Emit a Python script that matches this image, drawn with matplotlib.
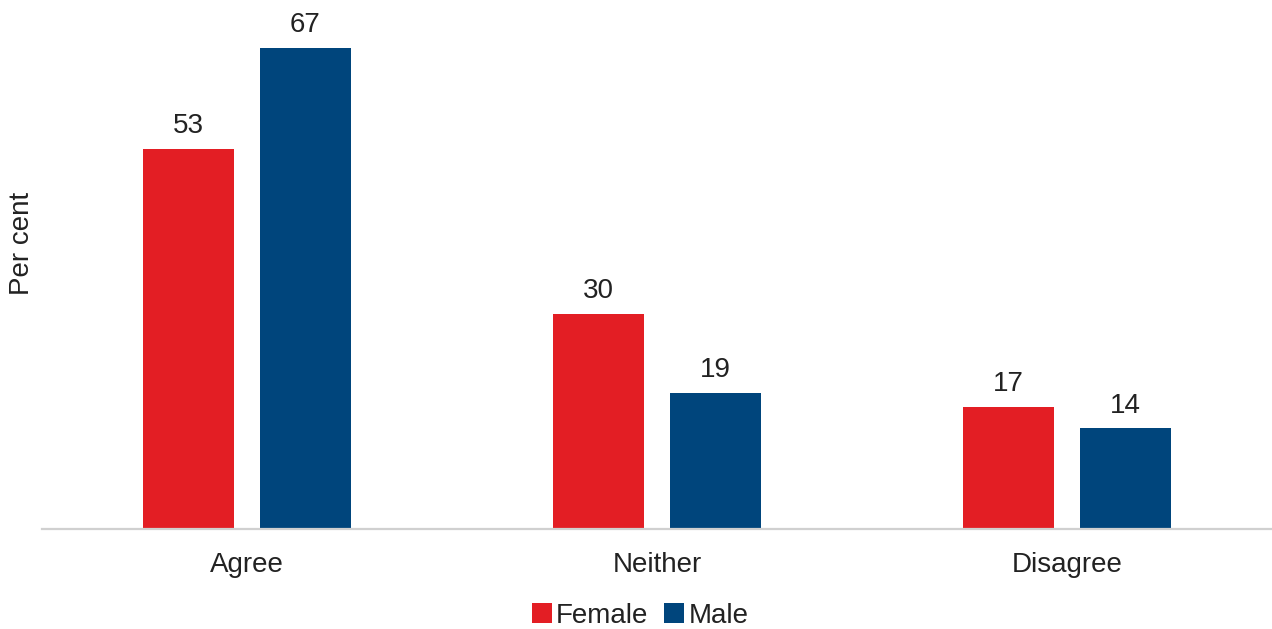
import matplotlib
matplotlib.use("Agg")
import matplotlib.pyplot as plt
import numpy as np

categories = ["Agree", "Neither", "Disagree"]
series_names = ["Female", "Male"]
female = [53, 30, 17]
male = [67, 19, 14]

colors = ["#E31E24", "#00457C"]
text_color = "#222222"
fs = 20

plt.rcParams["font.family"] = ["Liberation Sans", "DejaVu Sans"]

fig = plt.figure(figsize=(12.72, 6.29), dpi=100)
W, H = 1272, 629
left, right = 42, 1272
bottom_px = 529
top_px = 10
ax = fig.add_axes([left / W, 1 - bottom_px / H, (right - left) / W, (bottom_px - top_px) / H])

x = np.arange(len(categories))
bw = 0.224
off = 0.1425
data = [female, male]
for i, (name, vals) in enumerate(zip(series_names, data)):
    pos = x + (-off if i == 0 else off)
    bars = ax.bar(pos, vals, width=bw, color=colors[i], label=name, zorder=2)
    for b, v in zip(bars, vals):
        ax.annotate(f"{v}", (b.get_x() + b.get_width() / 2, v), xytext=(0, 7),
                    textcoords="offset points", ha="center", va="bottom",
                    fontsize=fs, color=text_color)

px_per_unit = (bottom_px - 48) / 67
ax.set_ylim(0, (bottom_px - top_px) / px_per_unit)
ax.set_xlim(-0.5, 2.5)

for s in ["top", "right", "left"]:
    ax.spines[s].set_visible(False)
ax.spines["bottom"].set_color("#d0d0d0")
ax.spines["bottom"].set_linewidth(1.6)
ax.set_yticks([])
ax.set_xticks(x)
ax.set_xticklabels(categories, fontsize=fs, color=text_color)
ax.tick_params(axis="x", length=0, pad=16.5)

fig.text(22 / W, 1 - 243 / H, "Per cent", rotation=90, ha="center", va="center",
         fontsize=fs, color=text_color)

leg = fig.legend(loc="center", bbox_to_anchor=(640 / W, 1 - 616 / H), ncol=2,
                 frameon=False, fontsize=fs, handlelength=0.72, handleheight=0.72,
                 handletextpad=0.15, columnspacing=0.58, borderaxespad=0, borderpad=0)
for t in leg.get_texts():
    t.set_color(text_color)

fig.savefig("out.png", dpi=100)
